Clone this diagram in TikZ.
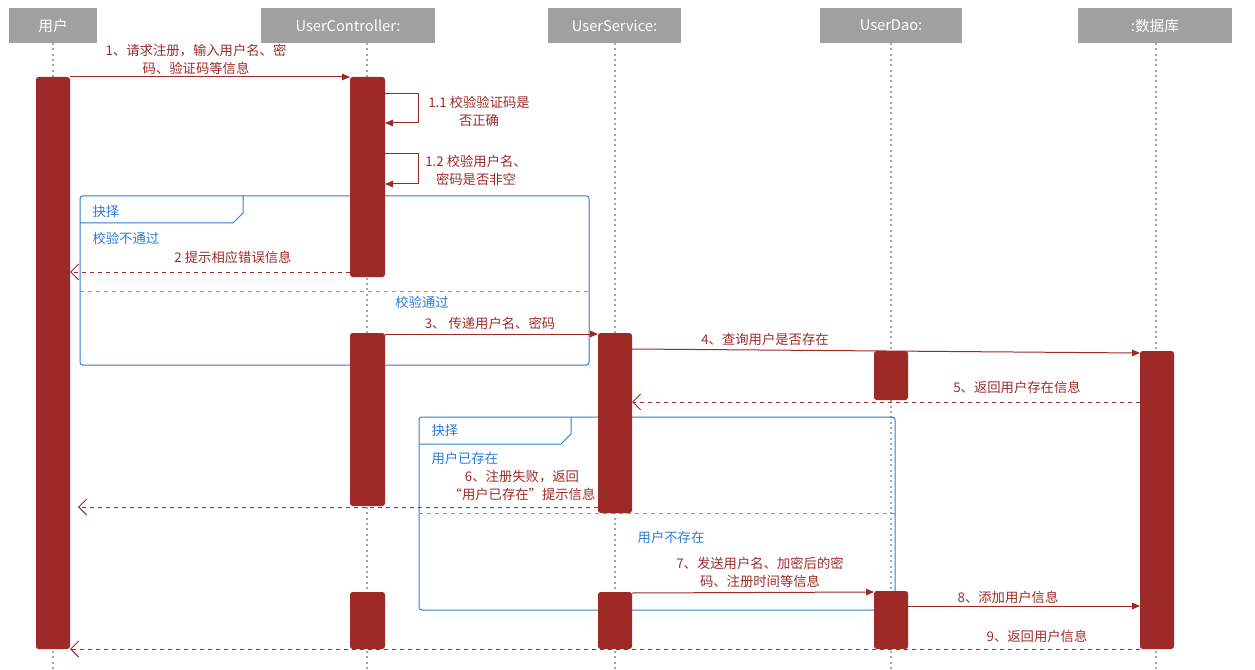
\documentclass[tikz,border=0pt]{standalone}
\usepackage{fontspec}
\setmainfont{Noto Sans CJK SC}
\usetikzlibrary{arrows.meta}
\definecolor{rd}{HTML}{9E2A27}
\definecolor{bl}{HTML}{2E7BD6}
\definecolor{lb}{HTML}{5AA5E8}
\definecolor{hd}{HTML}{A0A0A0}
\begin{document}
\begin{tikzpicture}[x=0.75pt,y=-0.75pt,line width=0.75pt,
  life/.style={draw=gray!70,line width=1.2pt,dash pattern=on 1.5pt off 2.5pt},
  act/.style={fill=rd,rounded corners=2pt},
  msg/.style={draw=rd,-{Triangle[length=6pt,width=5pt]}},
  ret/.style={draw=rd,dashed,-{Straight Barb[length=6pt,width=12pt]}},
  lbl/.style={text=rd,font=\fontsize{10}{13.5}\selectfont,align=center,inner sep=0},
  blbl/.style={text=bl,font=\fontsize{10}{12}\selectfont,inner sep=0},
  frm/.style={draw=bl,rounded corners=2pt}]
\useasboundingbox (0,0) rectangle (1255,670);
% headers
\foreach \n/\a/\b/\t in {h1/9/97/用户,h2/261/435/UserController:,h3/548/681/UserService:,h4/820/962/UserDao:,h5/1078/1232/:数据库}{
  \fill[hd] (\a,8) rectangle (\b,43);
  \node[text=white,font=\fontsize{11}{13}\selectfont] (\n) at ({(\a+\b)/2},25.5) {\t};}
% lifelines
\foreach \x in {53,367,615,891,1156}{\draw[life] (\x,43) -- (\x,670);}
% frames
\draw[frm] (80,196) rectangle (589,365);
\draw[bl] (80,223) -- (233,223) -- (243,213) -- (243,196);
\draw[lb,dashed] (80,291) -- (589,291);
\node[blbl,anchor=west] (f1a) at (92,211) {抉择};
\node[blbl,anchor=west] (f1b) at (92,238) {校验不通过};
\node[blbl] (f1c) at (422,302) {校验通过};
\draw[frm] (419,417) rectangle (895,610);
\draw[bl] (419,444) -- (561,444) -- (571,434) -- (571,417);
\draw[lb,dashed] (419,513) -- (895,513);
\node[blbl,anchor=west] (f2a) at (431,430) {抉择};
\node[blbl,anchor=west] (f2b) at (431,458) {用户已存在};
\node[blbl] (f2c) at (671,537) {用户不存在};
% activations
\fill[act] (36,77) rectangle (70,649);
\fill[act] (350,77) rectangle (385,277);
\fill[act] (350,333) rectangle (385,506);
\fill[act] (350,592) rectangle (385,649);
\fill[act] (598,333) rectangle (632,513);
\fill[act] (598,592) rectangle (632,649);
\fill[act] (874,351) rectangle (908,400);
\fill[act] (874,591) rectangle (908,649);
\fill[act] (1140,351) rectangle (1174,649);
% named points
\coordinate (m1a) at (70,77); \coordinate (m1b) at (350,77);
\coordinate (s1a) at (385,94); \coordinate (s1b) at (385,123);
\coordinate (s2a) at (385,154); \coordinate (s2b) at (385,184);
\coordinate (m2a) at (350,272); \coordinate (m2b) at (70,272);
\coordinate (m3a) at (385,334); \coordinate (m3b) at (598,334);
\coordinate (m4a) at (632,349); \coordinate (m4b) at (1140,353);
\coordinate (m5a) at (1140,402); \coordinate (m5b) at (632,402);
\coordinate (m6a) at (598,507); \coordinate (m6b) at (78,507);
\coordinate (m7a) at (632,593); \coordinate (m7b) at (874,592);
\coordinate (m8a) at (908,606); \coordinate (m8b) at (1140,606);
\coordinate (m9a) at (1140,649); \coordinate (m9b) at (70,649);
% messages
\draw[msg] (m1a) -- (m1b);
\draw[msg] (s1a) -- ++(33,0) |- (s1b);
\draw[msg] (s2a) -- ++(33,0) |- (s2b);
\draw[ret] (m2a) -- (m2b);
\draw[msg] (m3a) -- (m3b);
\draw[msg] (m4a) -- (m4b);
\draw[ret] (m5a) -- (m5b);
\draw[ret] (m6a) -- (m6b);
\draw[msg] (m7a) -- (m7b);
\draw[msg] (m8a) -- (m8b);
\draw[ret] (m9a) -- (m9b);
% labels
\node[lbl] (l1) at (196,59) {1、请求注册，输入用户名、密\\码、验证码等信息};
\node[lbl] (l11) at (479,111) {1.1 校验验证码是\\否正确};
\node[lbl] (l12) at (476,170) {1.2 校验用户名、\\密码是否非空};
\node[lbl] (l2) at (233,257) {2 提示相应错误信息};
\node[lbl] (l3) at (490,323) {3、 传递用户名、密码};
\node[lbl] (l4) at (765,339) {4、查询用户是否存在};
\node[lbl] (l5) at (1017,387) {5、返回用户存在信息};
\node[lbl] (l6) at (522,485) {6、注册失败，返回\\“用户已存在”提示信息};
\node[lbl] (l7) at (760,572) {7、发送用户名、加密后的密\\码、注册时间等信息};
\node[lbl] (l8) at (1008,597) {8、添加用户信息};
\node[lbl] (l9) at (1037,636) {9、返回用户信息};
\end{tikzpicture}
\end{document}
